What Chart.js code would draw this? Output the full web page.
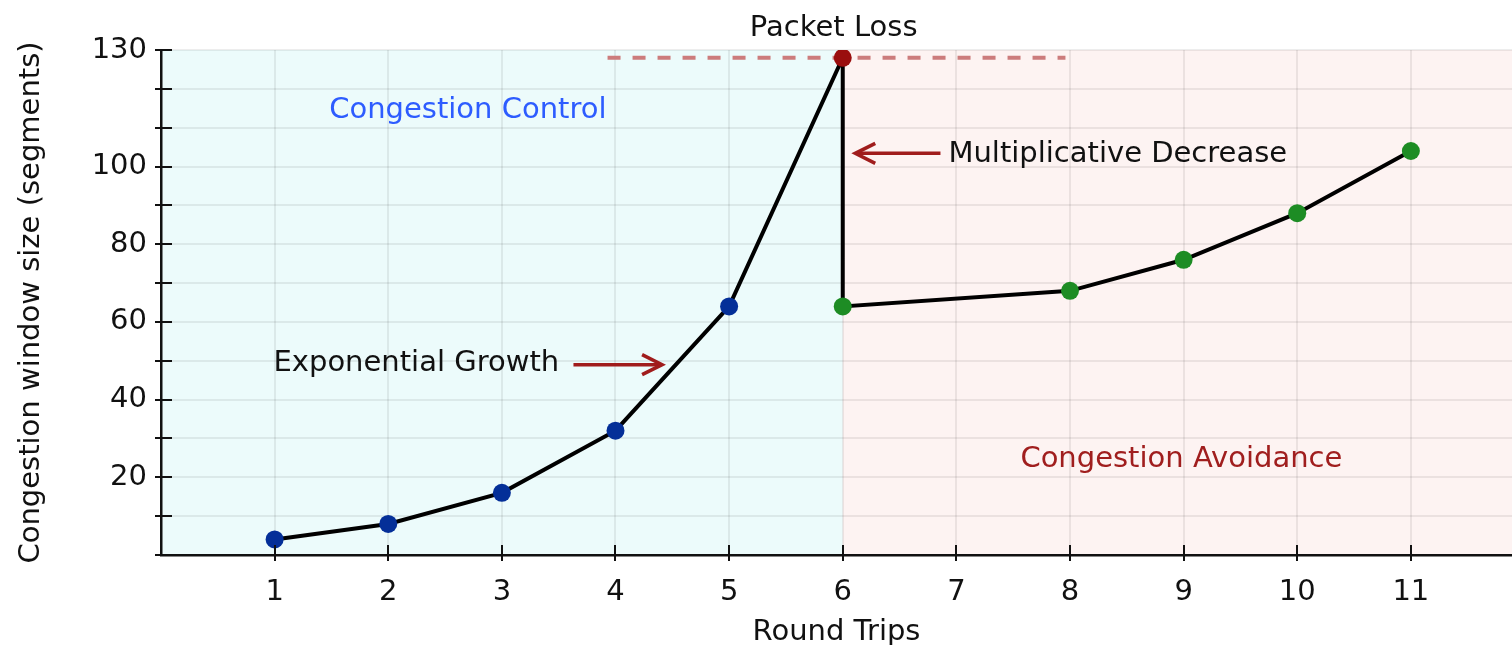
<!DOCTYPE html>
<html>
<head>
<meta charset="utf-8">
<script src="https://cdn.jsdelivr.net/npm/chart.js@4.4.1/dist/chart.umd.min.js"></script>
<style>
  html, body { margin: 0; padding: 0; background: #ffffff; }
  #wrap { width: 1512px; height: 645px; position: relative; }
  canvas { display: block; }
</style>
</head>
<body>
<div id="wrap"><canvas id="c" width="1512" height="645"></canvas></div>
<script>
// ---- data ----
const roundTrips   = [1, 2, 3, 4, 5, 6, 6, 8, 9, 10, 11];
const cwndSegments = [4, 8, 16, 32, 64, 128, 64, 68, 76, 88, 104];
const phases       = ['growth','growth','growth','growth','growth','loss','avoid','avoid','avoid','avoid','avoid'];
const xTickValues  = [1, 2, 3, 4, 5, 6, 7, 8, 9, 10, 11];
const yLabelValues = [20, 40, 60, 80, 100, 130];
const lossLevel    = 128;
const lossLineX    = [3.93, 7.96];
const phaseSplitX  = 6;

const xTitle = 'Round Trips';
const yTitle = 'Congestion window size (segments)';
const annotations = [
  { text: 'Packet Loss', x: 5.92, y: 135.6, align: 'center', color: '#111111' },
  { text: 'Congestion Control', x: 1.48, y: 114.4, align: 'left', color: '#2d5cff' },
  { text: 'Multiplicative Decrease', x: 6.93, y: 103.2, align: 'left', color: '#111111' },
  { text: 'Exponential Growth', x: 0.99, y: 49.3, align: 'left', color: '#111111' },
  { text: 'Congestion Avoidance', x: 8.98, y: 24.6, align: 'center', color: '#a01e1e' }
];
const arrows = [
  { from: [6.86, 103.4], to: [6.11, 103.4] },
  { from: [3.63, 49.0], to: [4.41, 49.0] }
];

// ---- styles ----
const FONT = '"DejaVu Sans", "Liberation Sans", sans-serif';
const FS = 29;
const phaseColor = { growth: '#042f98', loss: '#9a0e0e', avoid: '#1d8c24' };

const bgPlugin = {
  id: 'bg',
  beforeDraw(chart) {
    const { ctx, chartArea: a, scales: { x } } = chart;
    const split = x.getPixelForValue(phaseSplitX);
    ctx.save();
    ctx.fillStyle = '#ecfbfb';
    ctx.fillRect(a.left, a.top, split - a.left, a.bottom - a.top);
    ctx.fillStyle = '#fdf3f2';
    ctx.fillRect(split, a.top, a.right - split, a.bottom - a.top);
    ctx.restore();
  }
};

const tickPlugin = {
  id: 'crossTicks',
  afterDraw(chart) {
    const { ctx, chartArea: a, scales: { x, y } } = chart;
    ctx.save();
    ctx.strokeStyle = '#111';
    ctx.lineWidth = 2;
    ctx.beginPath();
    y.ticks.forEach(t => {
      const py = Math.round(y.getPixelForValue(t.value));
      ctx.moveTo(a.left - 6, py); ctx.lineTo(a.left + 11, py);
    });
    x.ticks.forEach(t => {
      const px = Math.round(x.getPixelForValue(t.value));
      ctx.moveTo(px, a.bottom - 10); ctx.lineTo(px, a.bottom + 6);
    });
    ctx.stroke();
    ctx.restore();
  }
};

const annoPlugin = {
  id: 'anno',
  afterDatasetsDraw(chart) {
    const { ctx, scales: { x, y } } = chart;
    ctx.save();
    ctx.font = FS + 'px ' + FONT;
    ctx.textBaseline = 'middle';
    annotations.forEach(a => {
      ctx.fillStyle = a.color;
      ctx.textAlign = a.align;
      ctx.fillText(a.text, x.getPixelForValue(a.x), y.getPixelForValue(a.y));
    });
    ctx.strokeStyle = '#a01c1c';
    ctx.lineWidth = 3.5;
    ctx.lineCap = 'butt';
    arrows.forEach(ar => {
      const x0 = x.getPixelForValue(ar.from[0]), y0 = y.getPixelForValue(ar.from[1]);
      const x1 = x.getPixelForValue(ar.to[0]),   y1 = y.getPixelForValue(ar.to[1]);
      const dir = Math.sign(x1 - x0);
      ctx.beginPath();
      ctx.moveTo(x0, y0); ctx.lineTo(x1 - dir * 2, y1);
      ctx.stroke();
      ctx.beginPath();
      ctx.moveTo(x1 - dir * 20, y1 - 10);
      ctx.lineTo(x1, y1);
      ctx.lineTo(x1 - dir * 20, y1 + 10);
      ctx.stroke();
    });
    ctx.restore();
  }
};

new Chart(document.getElementById('c'), {
  type: 'line',
  data: {
    datasets: [
      {
        label: 'cwnd',
        data: roundTrips.map((r, i) => ({ x: r, y: cwndSegments[i] })),
        borderColor: '#000000',
        borderWidth: 4,
        pointRadius: 9,
        pointHoverRadius: 9,
        pointBorderWidth: 0,
        pointBackgroundColor: phases.map(p => phaseColor[p]),
        pointBorderColor: phases.map(p => phaseColor[p]),
        tension: 0,
        order: 1
      },
      {
        label: 'loss',
        data: lossLineX.map(v => ({ x: v, y: lossLevel })),
        borderColor: '#cc7c7c',
        borderWidth: 4,
        borderDash: [13, 12],
        pointRadius: 0,
        order: 2
      }
    ]
  },
  options: {
    responsive: false,
    animation: false,
    devicePixelRatio: 1,
    layout: { autoPadding: false, padding: { top: 50, right: 0, left: 0, bottom: 0 } },
    plugins: { legend: { display: false }, tooltip: { enabled: false } },
    scales: {
      x: {
        type: 'linear',
        min: 0,
        max: 11.89,
        afterBuildTicks(scale) { scale.ticks = xTickValues.map(v => ({ value: v })); },
        afterFit(scale) { scale.height = 90; scale.paddingRight = 0; scale.paddingLeft = 0; },
        grid: { color: 'rgba(0,0,0,0.07)', lineWidth: 2, drawTicks: false },
        border: { color: '#111', width: 2.5 },
        ticks: { color: '#111', font: { size: FS, family: FONT }, padding: 20, maxRotation: 0, autoSkip: false,
                 callback: v => String(v) },
        title: { display: true, text: xTitle, color: '#111', font: { size: FS, family: FONT }, padding: { top: 0, bottom: -5 } }
      },
      y: {
        type: 'linear',
        min: 0,
        max: 130,
        afterBuildTicks(scale) {
          const t = [];
          for (let v = 0; v <= 130; v += 10) t.push({ value: v });
          scale.ticks = t;
        },
        afterFit(scale) { scale.width = 161; },
        grid: { color: 'rgba(0,0,0,0.07)', lineWidth: 2, drawTicks: false },
        border: { color: '#111', width: 2.5 },
        ticks: { color: '#111', font: { size: FS, family: FONT }, padding: 14, autoSkip: false,
                 callback: v => yLabelValues.includes(v) ? String(v) : '' },
        title: { display: true, text: yTitle, color: '#111', font: { size: FS, family: FONT }, padding: { top: 14, bottom: 0 } }
      }
    }
  },
  plugins: [bgPlugin, tickPlugin, annoPlugin]
});
</script>
</body>
</html>
